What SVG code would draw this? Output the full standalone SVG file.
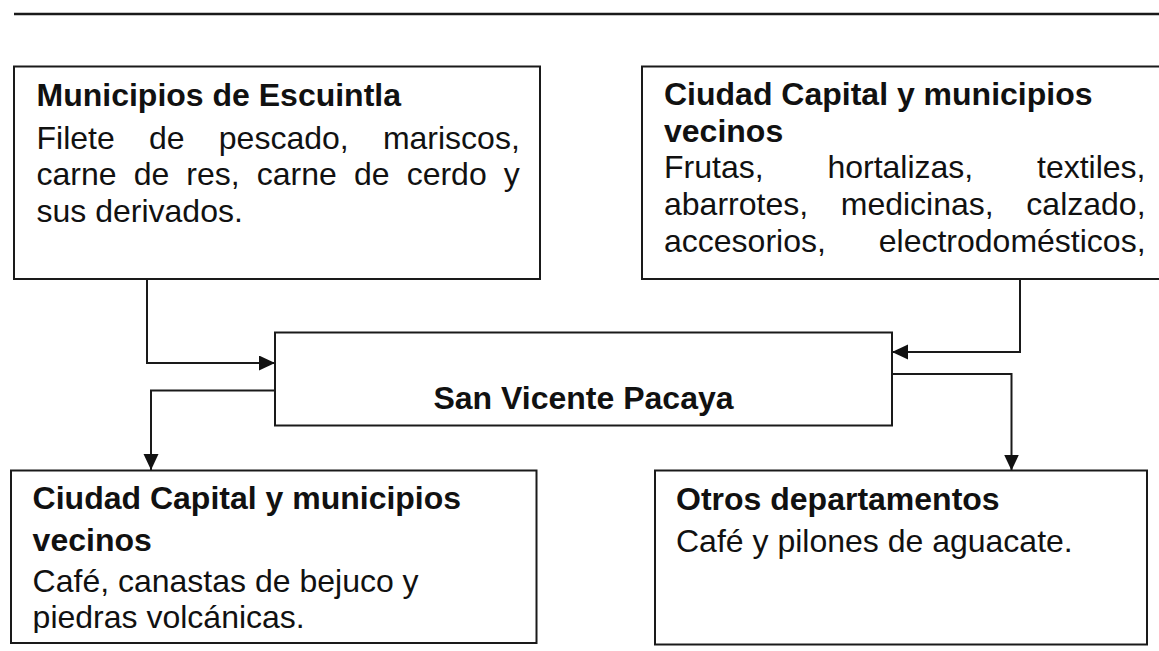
<svg xmlns="http://www.w3.org/2000/svg" width="1159" height="651" viewBox="0 0 1159 651">
<style>
  .box { fill: #ffffff; stroke: #1a1a1a; stroke-width: 2; }
  .t { font-family: "Liberation Sans", Arial, sans-serif; font-size: 32px; fill: #111111; }
  .b { font-weight: bold; }
  .conn { fill: none; stroke: #1a1a1a; stroke-width: 2; }
</style>
<defs>
  <marker id="arrow" markerUnits="userSpaceOnUse" markerWidth="17" markerHeight="16" refX="16" refY="7.5" orient="auto">
    <path d="M0,0 L16,7.5 L0,15 Z" fill="#111111"/>
  </marker>
  <clipPath id="clip3"><rect x="11" y="470" width="526" height="163"/></clipPath>
</defs>
<rect x="0" y="0" width="1159" height="651" fill="#ffffff"/>
<line x1="14" y1="14" x2="1159" y2="14" stroke="#1a1a1a" stroke-width="2.5"/>

<g id="connectors">
  <path class="conn" d="M147,279 V363 H275" marker-end="url(#arrow)"/>
  <path class="conn" d="M275,390.5 H151 V470" marker-end="url(#arrow)"/>
  <path class="conn" d="M1020,279 V352 H892" marker-end="url(#arrow)"/>
  <path class="conn" d="M892,374 H1011.5 V470.5" marker-end="url(#arrow)"/>
</g>

<g id="node-escuintla">
  <rect class="box" x="14" y="66.5" width="526" height="212.5"/>
  <text class="t b" x="36.5" y="106">Municipios de Escuintla</text>
  <text class="t" y="148.5"><tspan x="36.5">Filete</tspan><tspan x="148.98">de</tspan><tspan x="218.8">pescado,</tspan><tspan x="382.9">mariscos,</tspan></text>
  <text class="t" y="185.2"><tspan x="36.5">carne</tspan><tspan x="133.65">de</tspan><tspan x="186.35">res,</tspan><tspan x="256.81">carne</tspan><tspan x="353.96">de</tspan><tspan x="406.66">cerdo</tspan><tspan x="503.81">y</tspan></text>
  <text class="t" x="36.5" y="221.9">sus derivados.</text>
</g>

<g id="node-capital-in">
  <rect class="box" x="642" y="66.5" width="525" height="212.5"/>
  <text class="t b" x="664" y="105">Ciudad Capital y municipios</text>
  <text class="t b" x="664" y="141.7">vecinos</text>
  <text class="t" y="178.3"><tspan x="664">Frutas,</tspan><tspan x="827.39">hortalizas,</tspan><tspan x="1037.02">textiles,</tspan></text>
  <text class="t" y="215"><tspan x="664">abarrotes,</tspan><tspan x="840.73">medicinas,</tspan><tspan x="1026.33">calzado,</tspan></text>
  <text class="t" y="251.7"><tspan x="664">accesorios,</tspan><tspan x="878.75">electrodomésticos,</tspan></text>
</g>

<g id="node-san-vicente">
  <rect class="box" x="275" y="332.5" width="617" height="93"/>
  <text class="t b" x="583.5" y="409" text-anchor="middle">San Vicente Pacaya</text>
</g>

<g id="node-capital-out">
  <rect class="box" x="11" y="470.5" width="525.5" height="172.5"/>
  <g clip-path="url(#clip3)">
    <text class="t b" x="32.6" y="509">Ciudad Capital y municipios</text>
    <text class="t b" x="32.6" y="550.5">vecinos</text>
    <text class="t" x="32.6" y="592">Café, canastas de bejuco y</text>
    <text class="t" x="32.6" y="628">piedras volcánicas.</text>
  </g>
</g>

<g id="node-otros">
  <rect class="box" x="655" y="470.5" width="492" height="174"/>
  <text class="t b" x="676" y="510">Otros departamentos</text>
  <text class="t" x="676" y="552">Café y pilones de aguacate.</text>
</g>
</svg>
